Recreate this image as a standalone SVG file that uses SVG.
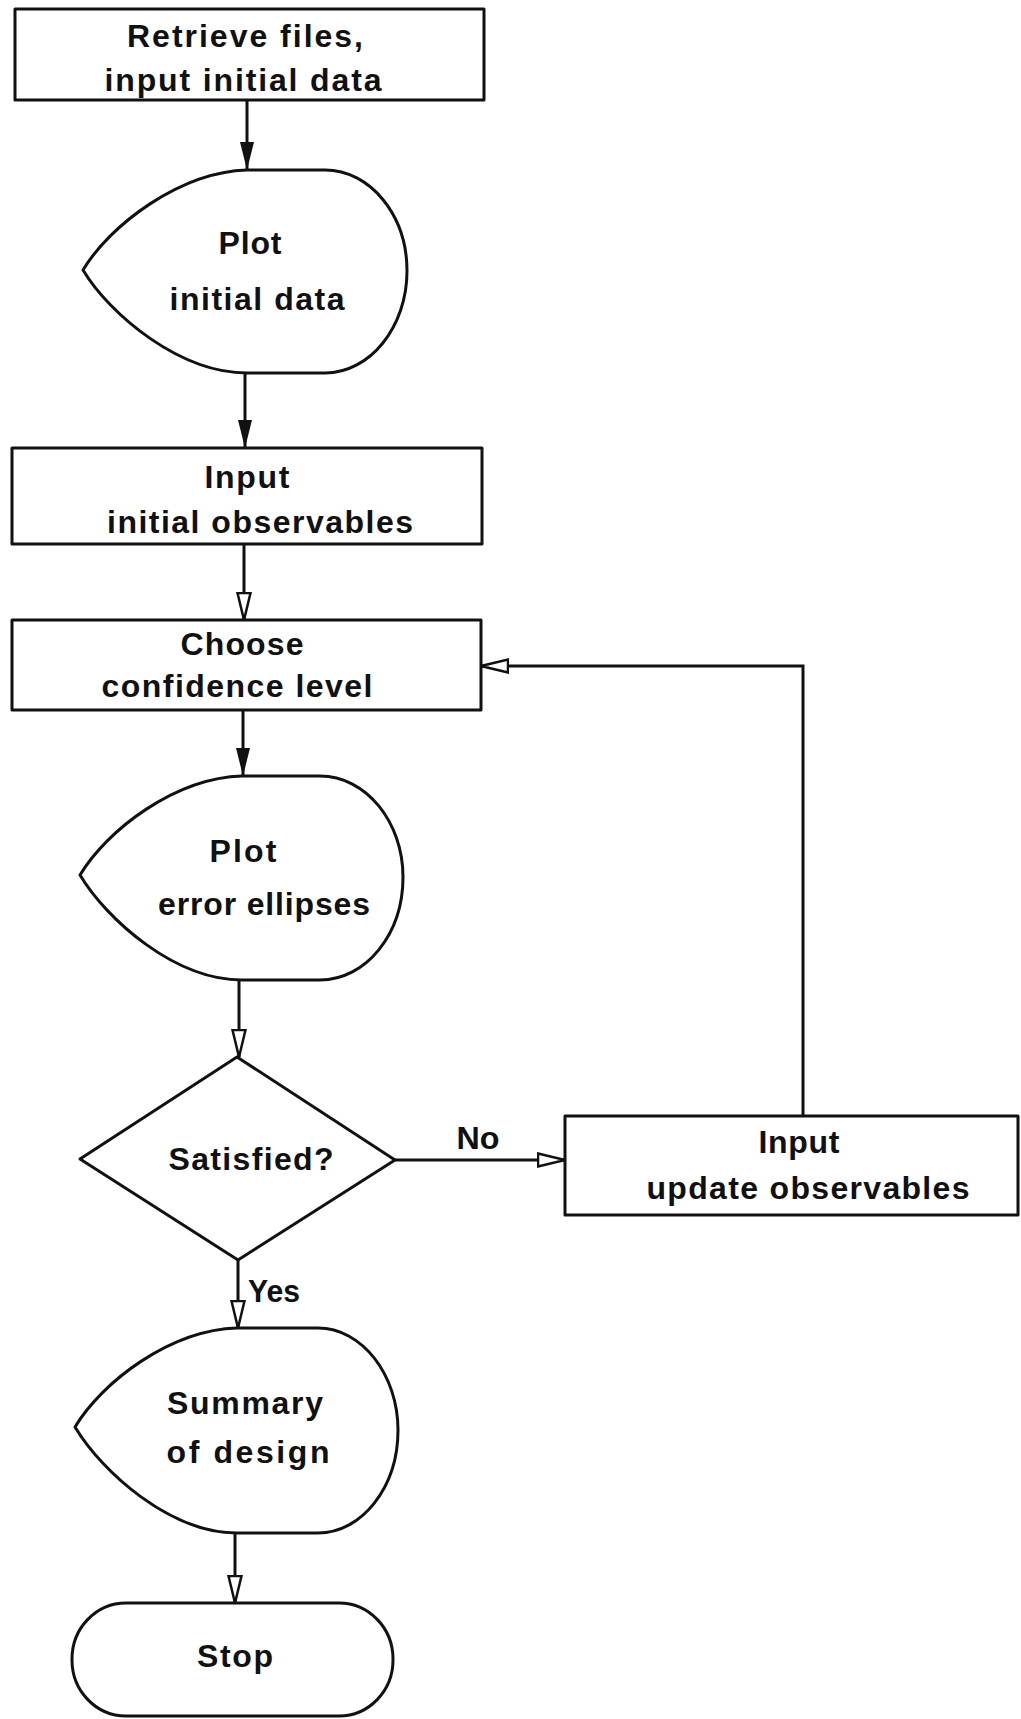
<svg xmlns="http://www.w3.org/2000/svg" width="1021" height="1719" viewBox="0 0 1021 1719">
  <style>
    .shape { fill: #fff; stroke: #111; stroke-width: 3; stroke-linejoin: round; }
    .edge { fill: none; stroke: #111; stroke-width: 3; }
    .solid { marker-end: url(#head-solid); }
    .open { marker-end: url(#head-open); }
    text { font-family: "Liberation Sans", Arial, Helvetica, sans-serif; font-weight: bold; font-size: 32px; fill: #111; text-anchor: middle; }
  </style>
  <defs>
    <marker id="head-solid" markerUnits="userSpaceOnUse" markerWidth="30" markerHeight="16" refX="28" refY="7" orient="auto">
      <path d="M0,0 L28,7 L0,14 Z" fill="#111"/>
    </marker>
    <marker id="head-open" markerUnits="userSpaceOnUse" markerWidth="32" markerHeight="18" refX="28" refY="8" orient="auto">
      <path d="M1,1.5 L28,8 L1,14.5 Z" fill="#fff" stroke="#111" stroke-width="2.5" stroke-linejoin="miter"/>
    </marker>
  </defs>

  <rect width="1021" height="1719" fill="#fff"/>

  <!-- connectors -->
  <g id="connectors">
    <path class="edge solid" d="M247,100 L247,170"/>
    <path class="edge solid" d="M245,373 L245,448"/>
    <path class="edge open" d="M244,544 L244,620"/>
    <path class="edge solid" d="M243,710 L243,776"/>
    <path class="edge open" d="M239,980 L239,1057"/>
    <path class="edge open" d="M395,1160 L565,1160"/>
    <path class="edge open" d="M803,1116 L803,666 L481,666"/>
    <path class="edge open" d="M238,1260 L238,1328"/>
    <path class="edge open" d="M235,1533 L235,1603"/>
    <text x="478" y="1149" textLength="43" lengthAdjust="spacingAndGlyphs">No</text>
    <text x="274" y="1302" textLength="52" lengthAdjust="spacingAndGlyphs">Yes</text>
  </g>

  <!-- nodes -->
  <g id="retrieve">
    <rect class="shape" x="15" y="9" width="469" height="91"/>
    <text x="245" y="47" textLength="236" lengthAdjust="spacing">Retrieve files,</text>
    <text x="243" y="91" textLength="277" lengthAdjust="spacing">input initial data</text>
  </g>

  <g id="plot-initial">
    <path class="shape" d="M83,270 C110,225 180,172 247,170 L325,170 C370,170 407,215 407,271 C407,327 370,373 325,373 L247,373 C180,373 110,315 83,270 Z"/>
    <text x="250" y="254" textLength="63" lengthAdjust="spacing">Plot</text>
    <text x="257" y="310" textLength="175" lengthAdjust="spacing">initial data</text>
  </g>

  <g id="input-initial">
    <rect class="shape" x="12" y="448" width="470" height="96"/>
    <text x="247" y="488" textLength="85" lengthAdjust="spacing">Input</text>
    <text x="260" y="533" textLength="306" lengthAdjust="spacing">initial observables</text>
  </g>

  <g id="confidence">
    <rect class="shape" x="12" y="620" width="469" height="90"/>
    <text x="242" y="655" textLength="123" lengthAdjust="spacing">Choose</text>
    <text x="237" y="697" textLength="271" lengthAdjust="spacing">confidence level</text>
  </g>

  <g id="plot-ellipses">
    <path class="shape" d="M80,875 C107,830 175,778 242,776 L320,776 C366,776 403,822 403,877 C403,934 366,980 320,980 L242,980 C175,980 107,920 80,875 Z"/>
    <text x="243" y="862" textLength="67" lengthAdjust="spacing">Plot</text>
    <text x="264" y="915" textLength="212" lengthAdjust="spacing">error ellipses</text>
  </g>

  <g id="satisfied">
    <path class="shape" d="M237,1057 L395,1160 L238,1260 L80,1159 Z"/>
    <text x="251" y="1170" textLength="165" lengthAdjust="spacing">Satisfied?</text>
  </g>

  <g id="input-update">
    <rect class="shape" x="565" y="1116" width="453" height="99"/>
    <text x="799" y="1153" textLength="81" lengthAdjust="spacing">Input</text>
    <text x="808" y="1199" textLength="323" lengthAdjust="spacing">update observables</text>
  </g>

  <g id="summary">
    <path class="shape" d="M75,1427 C102,1382 170,1330 237,1328 L318,1328 C362,1328 398,1375 398,1430 C398,1487 362,1533 318,1533 L237,1533 C170,1533 102,1472 75,1427 Z"/>
    <text x="245" y="1414" textLength="156" lengthAdjust="spacing">Summary</text>
    <text x="248" y="1463" textLength="163" lengthAdjust="spacing">of design</text>
  </g>

  <g id="stop">
    <rect class="shape" x="72" y="1603" width="321" height="113" rx="54" ry="56"/>
    <text x="235" y="1667" textLength="76" lengthAdjust="spacing">Stop</text>
  </g>
</svg>
